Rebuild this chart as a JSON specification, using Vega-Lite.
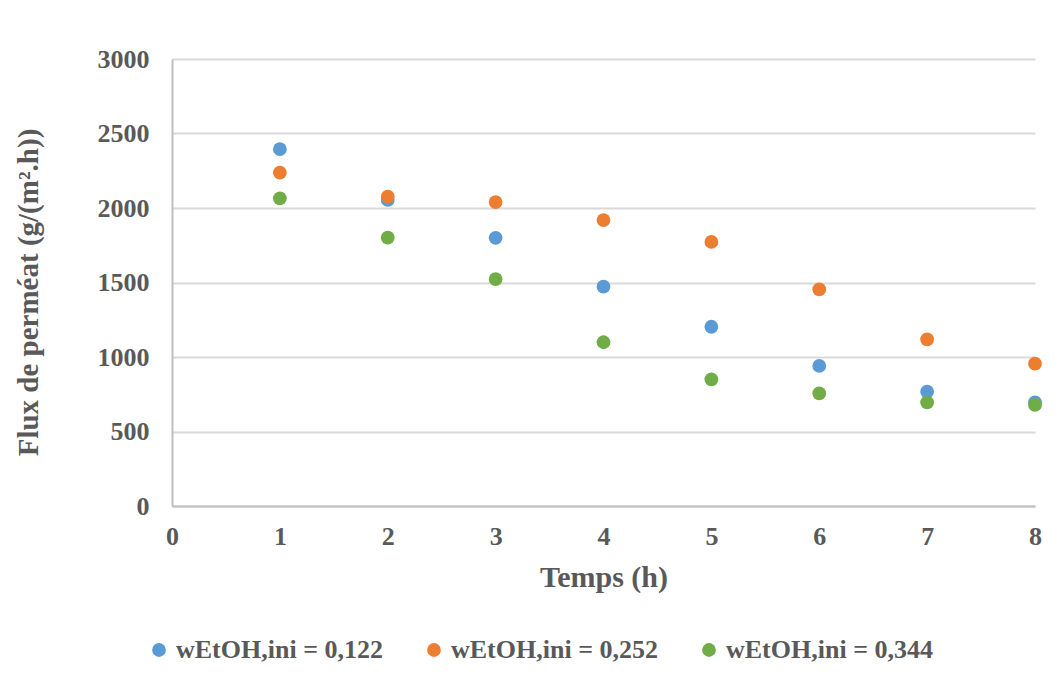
{
  "$schema": "https://vega.github.io/schema/vega-lite/v6.json",
  "width": 863,
  "height": 447,
  "autosize": {"type": "none"},
  "padding": {"left": 172, "top": 59, "right": 24, "bottom": 178},
  "background": "white",
  "config": {
    "view": {"stroke": null},
    "font": "Liberation Serif",
    "axis": {"labelFont": "Liberation Serif", "titleFont": "Liberation Serif", "labelFontWeight": "bold", "titleFontWeight": "bold", "labelColor": "#595959", "titleColor": "#595959"},
    "legend": {"labelFont": "Liberation Serif", "labelFontWeight": "bold", "labelColor": "#595959"}
  },
  "data": {
    "values": [
      {"t": 1, "flux": 2395, "serie": "wEtOH,ini = 0,122"},
      {"t": 2, "flux": 2054, "serie": "wEtOH,ini = 0,122"},
      {"t": 3, "flux": 1800, "serie": "wEtOH,ini = 0,122"},
      {"t": 4, "flux": 1472, "serie": "wEtOH,ini = 0,122"},
      {"t": 5, "flux": 1203, "serie": "wEtOH,ini = 0,122"},
      {"t": 6, "flux": 940, "serie": "wEtOH,ini = 0,122"},
      {"t": 7, "flux": 767, "serie": "wEtOH,ini = 0,122"},
      {"t": 8, "flux": 695, "serie": "wEtOH,ini = 0,122"},
      {"t": 1, "flux": 2237, "serie": "wEtOH,ini = 0,252"},
      {"t": 2, "flux": 2076, "serie": "wEtOH,ini = 0,252"},
      {"t": 3, "flux": 2040, "serie": "wEtOH,ini = 0,252"},
      {"t": 4, "flux": 1919, "serie": "wEtOH,ini = 0,252"},
      {"t": 5, "flux": 1772, "serie": "wEtOH,ini = 0,252"},
      {"t": 6, "flux": 1454, "serie": "wEtOH,ini = 0,252"},
      {"t": 7, "flux": 1119, "serie": "wEtOH,ini = 0,252"},
      {"t": 8, "flux": 955, "serie": "wEtOH,ini = 0,252"},
      {"t": 1, "flux": 2065, "serie": "wEtOH,ini = 0,344"},
      {"t": 2, "flux": 1801, "serie": "wEtOH,ini = 0,344"},
      {"t": 3, "flux": 1523, "serie": "wEtOH,ini = 0,344"},
      {"t": 4, "flux": 1099, "serie": "wEtOH,ini = 0,344"},
      {"t": 5, "flux": 850, "serie": "wEtOH,ini = 0,344"},
      {"t": 6, "flux": 756, "serie": "wEtOH,ini = 0,344"},
      {"t": 7, "flux": 696, "serie": "wEtOH,ini = 0,344"},
      {"t": 8, "flux": 678, "serie": "wEtOH,ini = 0,344"}
    ]
  },
  "mark": {"type": "point", "filled": true, "opacity": 1, "size": 190, "shape": "circle"},
  "encoding": {
    "x": {
      "field": "t", "type": "quantitative",
      "scale": {"domain": [0, 8], "nice": false},
      "axis": {"title": "Temps (h)", "values": [0,1,2,3,4,5,6,7,8], "format": "d", "grid": false, "ticks": false, "domainColor": "#bfbfbf", "domainWidth": 2, "labelFontSize": 26, "labelPadding": 17, "titleFontSize": 30, "titleY": 71, "titleBaseline": "middle", "labelFlush": false}
    },
    "y": {
      "field": "flux", "type": "quantitative",
      "scale": {"domain": [0, 3000], "nice": false},
      "axis": {"title": "Flux de perméat (g/(m².h))", "values": [0,500,1000,1500,2000,2500,3000], "format": "d", "grid": true, "gridColor": "#d9d9d9", "gridWidth": 2, "ticks": false, "domainColor": "#bfbfbf", "domainWidth": 2, "labelFontSize": 26, "labelPadding": 23, "titleFontSize": 29, "titleX": -144, "titleY": 233, "titleBaseline": "middle", "titleAngle": -90}
    },
    "color": {
      "field": "serie", "type": "nominal",
      "scale": {"domain": ["wEtOH,ini = 0,122", "wEtOH,ini = 0,252", "wEtOH,ini = 0,344"], "range": ["#5B9BD5", "#ED7D31", "#70AD47"]},
      "legend": {"title": null, "orient": "none", "direction": "horizontal", "columns": 3, "legendX": -26, "legendY": 578, "labelFontSize": 26, "symbolSize": 190, "symbolType": "circle", "columnPadding": 38, "labelOffset": 4, "labelLimit": 400}
    }
  }
}
